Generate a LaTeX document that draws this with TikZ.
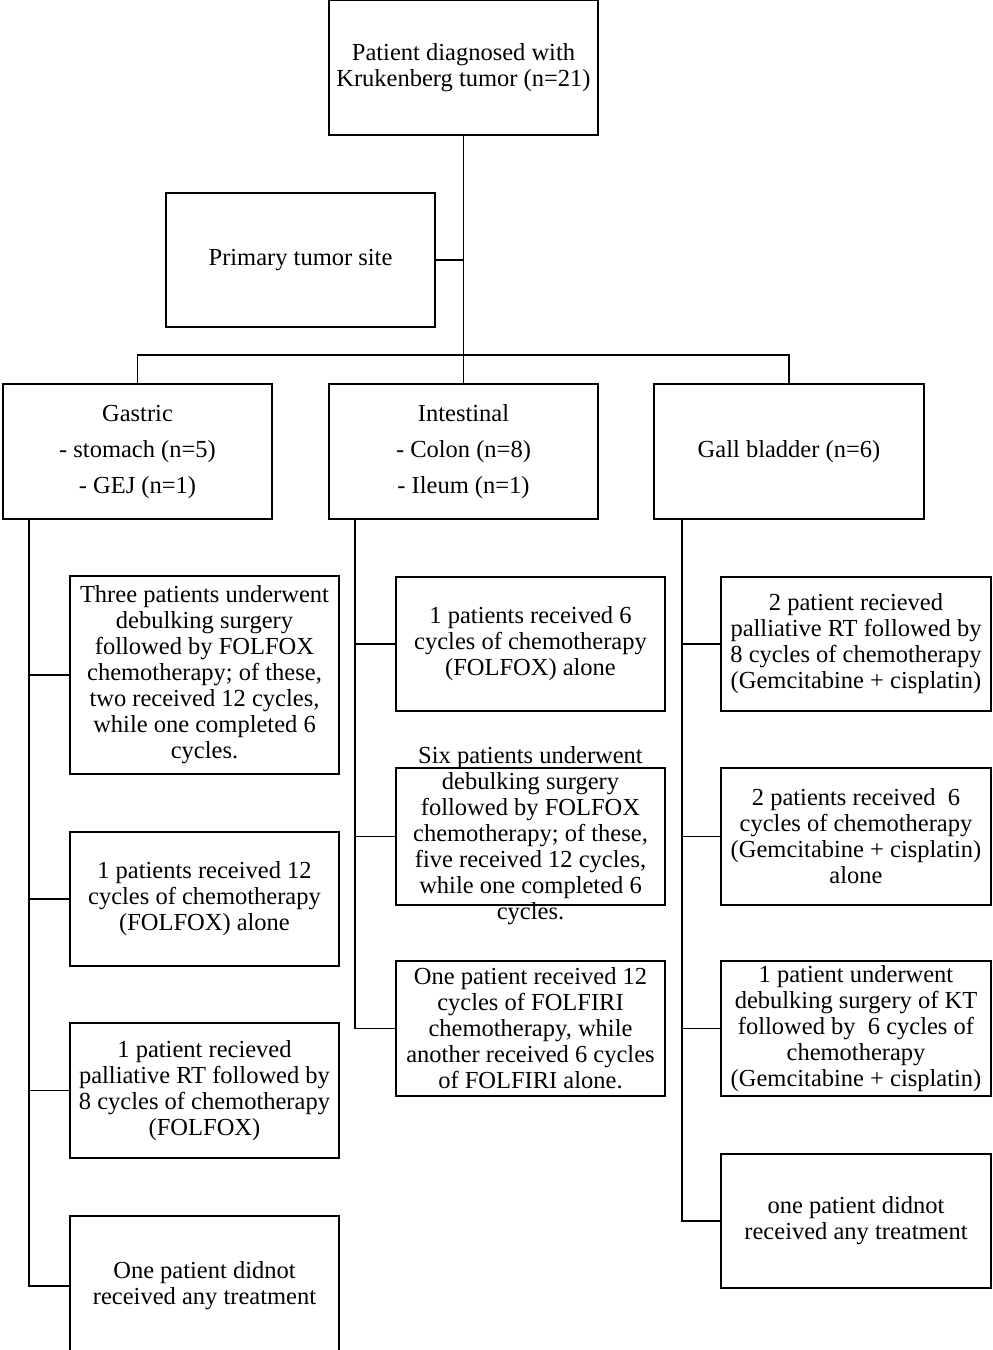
\documentclass[tikz,border=0pt]{standalone}
\usepackage{fontspec}
\setmainfont{Liberation Serif}
\begin{document}
\begin{tikzpicture}[x=1pt,y=-1pt,
  bx/.style={draw, line width=1.3pt, align=center, inner sep=0pt, font=\fontsize{24.5}{26}\selectfont},
  ln/.style={line width=1.3pt}]
\useasboundingbox (0,0) rectangle (993,1350);
\fill[white] (0,0) rectangle (993,1350);
% top
\node[bx, minimum width=269pt, minimum height=135pt] (top) at (463.5,67.5) {Patient diagnosed with\\Krukenberg tumor (n=21)};
\node[bx, minimum width=269pt, minimum height=134pt] (prim) at (300.5,260) {Primary tumor site};
\node[bx, minimum width=269pt, minimum height=135pt] (gas) at (137.5,451.5) {Gastric\\[10pt] - stomach (n=5)\\[10pt] - GEJ (n=1)};
\node[bx, minimum width=269pt, minimum height=135pt] (int) at (463.5,451.5) {Intestinal\\[10pt] - Colon (n=8)\\[10pt] - Ileum (n=1)};
\node[bx, minimum width=270pt, minimum height=135pt] (gal) at (789,451.5) {Gall bladder (n=6)};
\coordinate (j) at (463.5,355);
\draw[ln] (top.south) -- (int.north);
\draw[ln] (prim.east) -- (prim.east -| j);
\draw[ln] (gas.north) |- (j) -| (gal.north);
% gastric column
\node[bx, minimum width=269pt, minimum height=198pt] (g1) at (204.5,675) {Three patients underwent\\debulking surgery\\followed by FOLFOX\\chemotherapy; of these,\\two received 12 cycles,\\while one completed 6\\cycles.};
\node[bx, minimum width=269pt, minimum height=134pt] (g2) at (204.5,899) {1 patients received 12\\cycles of chemotherapy\\(FOLFOX) alone};
\node[bx, minimum width=269pt, minimum height=135pt] (g3) at (204.5,1090.5) {1 patient recieved\\palliative RT followed by\\8 cycles of chemotherapy\\(FOLFOX)};
\node[bx, minimum width=269pt, minimum height=140pt] (g4) at (204.5,1286) {One patient didnot\\received any treatment};
\coordinate (gs) at (29,519);
\draw[ln] (gs) |- (g4.west);
\draw[ln] (g1.west) -- (g1.west -| gs);
\draw[ln] (g2.west) -- (g2.west -| gs);
\draw[ln] (g3.west) -- (g3.west -| gs);
% intestinal column
\node[bx, minimum width=269pt, minimum height=134pt] (i1) at (530.5,644) {1 patients received 6\\cycles of chemotherapy\\(FOLFOX) alone};
\node[draw, line width=1.3pt, minimum width=269pt, minimum height=137pt, inner sep=0pt] (i2) at (530.5,836.5) {};
\node[align=center, inner sep=0pt, font=\fontsize{24.5}{26}\selectfont] at (530.5,836) {Six patients underwent\\debulking surgery\\followed by FOLFOX\\chemotherapy; of these,\\five received 12 cycles,\\while one completed 6\\cycles.};
\node[bx, minimum width=269pt, minimum height=135pt] (i3) at (530.5,1028.5) {One patient received 12\\cycles of FOLFIRI\\chemotherapy, while\\another received 6 cycles\\of FOLFIRI alone.};
\coordinate (is) at (355,519);
\draw[ln] (is) |- (i3.west);
\draw[ln] (i1.west) -- (i1.west -| is);
\draw[ln] (i2.west) -- (i2.west -| is);
% gall column
\node[bx, minimum width=270pt, minimum height=134pt] (b1) at (856,644) {2 patient recieved\\palliative RT followed by\\8 cycles of chemotherapy\\(Gemcitabine + cisplatin)};
\node[bx, minimum width=270pt, minimum height=137pt] (b2) at (856,836.5) {2 patients received \ 6\\cycles of chemotherapy\\(Gemcitabine + cisplatin)\\alone};
\node[bx, minimum width=270pt, minimum height=135pt] (b3) at (856,1028.5) {1 patient underwent\\debulking surgery of KT\\followed by \ 6 cycles of\\chemotherapy\\(Gemcitabine + cisplatin)};
\node[bx, minimum width=270pt, minimum height=134pt] (b4) at (856,1221) {one patient didnot\\received any treatment};
\coordinate (bs) at (682,519);
\draw[ln] (bs) |- (b4.west);
\draw[ln] (b1.west) -- (b1.west -| bs);
\draw[ln] (b2.west) -- (b2.west -| bs);
\draw[ln] (b3.west) -- (b3.west -| bs);
\end{tikzpicture}
\end{document}
